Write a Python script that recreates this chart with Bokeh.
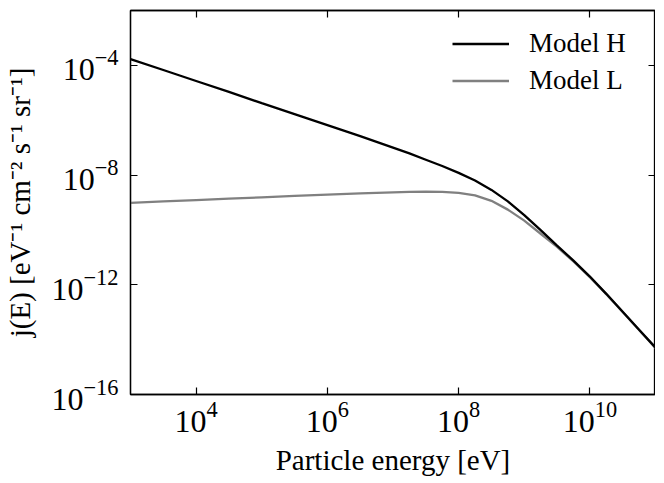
from bokeh.plotting import figure
from bokeh.models import LogAxis, FixedTicker, Legend, LegendItem
from bokeh.embed import file_html
from bokeh.resources import INLINE

# Data (log10 values)
energy_log10 = [3.0, 3.5, 4.0, 4.5, 5.0, 5.5, 6.0, 6.5, 7.0, 7.25, 7.5, 7.75,
                8.0, 8.25, 8.5, 8.75, 9.0, 9.25, 9.5, 9.75, 10.0, 10.25,
                10.5, 10.75, 11.0]
model_h_log10 = [-3.77, -4.17, -4.57, -4.97, -5.38, -5.78, -6.18, -6.58,
                 -7.00, -7.21, -7.44, -7.67, -7.92, -8.20, -8.54, -8.96,
                 -9.46, -10.01, -10.57, -11.12, -11.70, -12.33, -12.98,
                 -13.64, -14.29]
model_l_log10 = [-9.01, -8.96, -8.91, -8.86, -8.81, -8.76, -8.71, -8.67,
                 -8.63, -8.61, -8.60, -8.61, -8.65, -8.74, -8.94, -9.26,
                 -9.66, -10.14, -10.62, -11.15, -11.72, -12.34, -12.99,
                 -13.65, -14.30]
x_ticks = [1e4, 1e6, 1e8, 1e10]
y_ticks = [1e-16, 1e-12, 1e-8, 1e-4]
series_labels = ["Model H", "Model L"]

energy = [10 ** v for v in energy_log10]
model_h = [10 ** v for v in model_h_log10]
model_l = [10 ** v for v in model_l_log10]

FONT = "Liberation Serif"

p = figure(x_axis_type="log", y_axis_type="log",
           x_range=(1e3, 1e11), y_range=(1e-16, 1e-2),
           frame_width=525, frame_height=384,
           min_border_left=130, min_border_top=10, min_border_right=0,
           min_border_bottom=0,
           output_backend="svg", toolbar_location=None)
p.background_fill_color = "white"
p.border_fill_color = "white"
p.outline_line_color = "black"
p.outline_line_width = 1.3
p.grid.visible = False

r_l = p.line(energy, model_l, line_color="#808080", line_width=2.3)
r_h = p.line(energy, model_h, line_color="black", line_width=2.3)

def style_axis(ax, ticks, labels=True):
    ax.ticker = FixedTicker(ticks=ticks, minor_ticks=[])
    ax.axis_line_color = "black"
    ax.axis_line_width = 1.3
    ax.major_tick_in = 7
    ax.major_tick_out = 0
    ax.major_tick_line_color = "black"
    ax.major_tick_line_width = 1.2
    ax.minor_tick_line_color = None
    if labels:
        ax.major_label_text_font = FONT
        ax.major_label_text_font_size = "32px"
        ax.major_label_text_color = "black"
        ax.axis_label_text_font = FONT
        ax.axis_label_text_font_size = "29px"
        ax.axis_label_text_font_style = "normal"
        ax.axis_label_text_color = "black"
    else:
        ax.major_label_text_font_size = "0px"
        ax.major_label_text_alpha = 0
        ax.major_label_standoff = 0

style_axis(p.xaxis[0], x_ticks)
style_axis(p.yaxis[0], y_ticks)
p.xaxis[0].axis_label = "Particle energy [eV]"
p.yaxis[0].axis_label = "j(E) [eV\u207b\u00b9 cm\u207b\u00b2 s\u207b\u00b9 sr\u207b\u00b9]"
p.xaxis[0].major_label_standoff = 7
p.xaxis[0].axis_label_standoff = 9
p.yaxis[0].major_label_standoff = 12
p.yaxis[0].axis_label_standoff = 12

top_ax = LogAxis()
style_axis(top_ax, x_ticks, labels=False)
p.add_layout(top_ax, "above")
right_ax = LogAxis()
style_axis(right_ax, y_ticks, labels=False)
p.add_layout(right_ax, "right")

legend = Legend(items=[LegendItem(label=series_labels[0], renderers=[r_h]),
                       LegendItem(label=series_labels[1], renderers=[r_l])],
                location=(322, 295), margin=0, padding=0, spacing=0,
                glyph_width=57, glyph_height=37, label_height=37,
                label_standoff=20, border_line_color=None,
                background_fill_alpha=0,
                label_text_font=FONT, label_text_font_size="27px",
                label_text_color="black")
p.add_layout(legend, "center")

open("out.html", "w").write(file_html(p, INLINE))
